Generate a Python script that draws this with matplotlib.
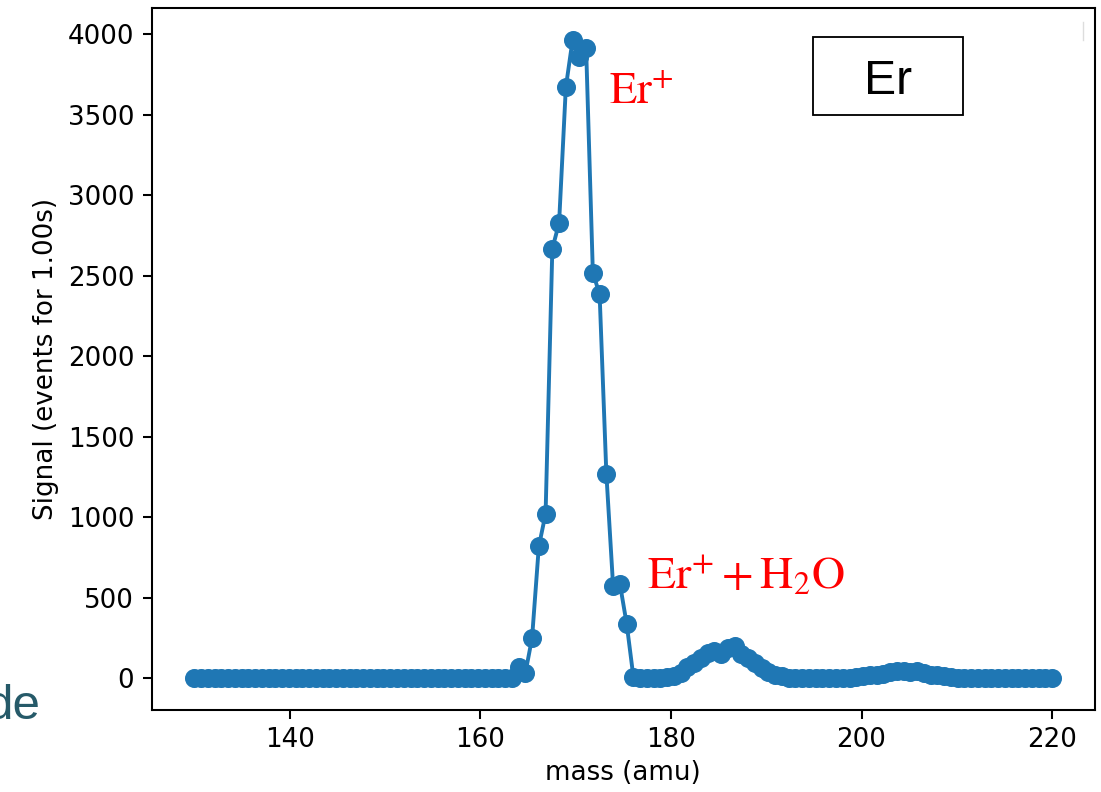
import numpy as np
import matplotlib.pyplot as plt
from matplotlib.patches import Rectangle
from matplotlib.lines import Line2D

plt.rcParams['mathtext.fontset'] = 'stix'

# mass grid of the scan (128 steps from 130 to 220 amu)
mass_start, mass_stop, n_steps = 130, 220, 128
mass = np.linspace(mass_start, mass_stop, n_steps)

# signal, one value per mass step
signal = [
    0, 0, 0, 0, 0, 0, 0, 0, 0, 0, 0, 0, 0, 0, 0, 0,
    0, 0, 0, 0, 0, 0, 0, 0, 0, 0, 0, 0, 0, 0, 0, 0,
    0, 0, 0, 0, 0, 0, 0, 0, 0, 0, 0, 0, 0, 0, 0, 0,
    70, 29, 250, 818, 1021, 2668, 2829, 3672, 3966, 3862, 3918, 2519,
    2385, 1269, 570, 587, 339, 8,
    0, 0, 0, 2,
    5, 15, 30, 70, 95, 125, 155, 170, 150, 190, 200, 150,
    125, 95, 60, 40, 22, 10, 3,
    0, 0, 0, 0, 0, 0, 0, 0,
    2, 8, 15, 18, 22, 28, 38, 45, 45, 38, 45, 30,
    20, 18, 12, 5,
    0, 0, 0, 0, 0, 0, 0, 0, 0, 0, 0, 0, 0, 0, 0,
]

W, H = 1101, 792
DPI = 165


def px(x, y):
    # pixel position (from top-left) -> figure fraction
    return x / W, 1 - y / H


fig = plt.figure(figsize=(W / DPI, H / DPI), dpi=DPI)
ax = fig.add_axes([151.5 / W, 1 - 710 / H, (1095 - 151.5) / W, (710 - 8) / H])

ax.plot(mass, signal, 'o-', markersize=7.3, linewidth=1.7)
ax.set_xlabel('mass (amu)', fontsize=11.4, labelpad=3)
ax.set_ylabel('Signal (events for 1.00s)', fontsize=11.4, labelpad=4)
ax.tick_params(labelsize=11.4, length=4, width=0.9)
for s in ax.spines.values():
    s.set_linewidth(0.9)

# slide annotations
fig.text(*px(609, 103.5), r'$\mathrm{Er}^{+}$', color='red', fontsize=19.5, va='baseline')
fig.text(*px(646.7, 589.3), r'$\mathrm{Er}^{+} + \mathrm{H}_{2}\mathrm{O}$',
         color='red', fontsize=20, va='baseline')

fig.add_artist(Rectangle(px(813, 115), 150 / W, 78 / H, transform=fig.transFigure,
                         fill=False, ec='black', lw=0.8))
fig.text(*px(888, 94), 'Er', family='Liberation Sans', fontsize=21,
         ha='center', va='baseline')

fig.text(*px(-14, 719), 'de', color='#265a69', family='Liberation Sans',
         fontsize=21.5, va='baseline')

fig.add_artist(Line2D([1083 / W, 1083 / W], [1 - 22 / H, 1 - 40 / H],
                      transform=fig.transFigure, color='#dddddd', lw=0.6))

fig.savefig('out.png', dpi=DPI)
